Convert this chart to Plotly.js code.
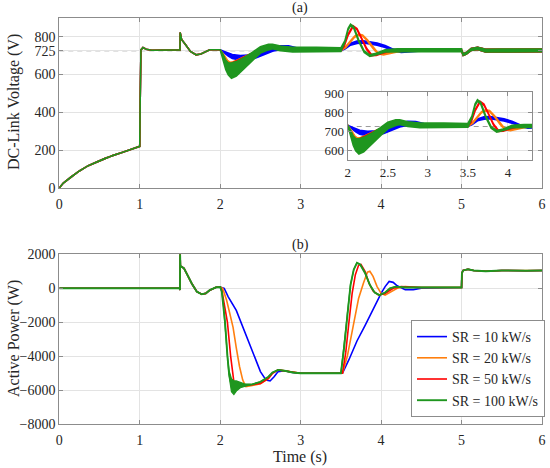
<!DOCTYPE html>
<html>
<head>
<meta charset="utf-8">
<script src="https://cdn.plot.ly/plotly-3.0.1.min.js"></script>
<style>html,body{margin:0;padding:0;background:#fff;}#chart{width:550px;height:468px;}</style>
</head>
<body>
<div id="chart"></div>
<script>
// ---------- series labels & colours ----------
const seriesNames = ['SR = 10 kW/s', 'SR = 20 kW/s', 'SR = 50 kW/s', 'SR = 100 kW/s'];
const seriesColors = ['#0000ff', '#ff7f0e', '#ff0000', '#1f961f'];

// ---------- (a) DC-link voltage: common start (0 - 2 s) ----------
const tHeadV = [0, 0.05, 0.15, 0.25, 0.36, 0.47, 0.57, 0.67, 0.78, 0.88, 0.98, 1.0, 1.005, 1.015, 1.04, 1.08, 1.15, 1.5, 1.502, 1.52, 1.57, 1.63, 1.7, 1.76, 1.87, 2.0];
const vHeadV = [0, 26, 60, 90, 118, 139, 157, 173, 188, 203, 217, 220, 450, 730, 742, 733, 728, 730, 822, 785, 757, 722, 704, 708, 731, 731];
// common end (5 - 6 s)
const tTailV = [5.0, 5.02, 5.06, 5.12, 5.2, 5.3, 5.5, 6.0];
const vTailV = [728, 705, 712, 732, 738, 726, 727, 727];
const wTailV = [3, 4, 4, 5, 6, 7, 7, 7];

// per-series voltage (2 - 5 s): centre value and half band width
const tV10 = [2.0, 2.05, 2.1, 2.15, 2.25, 2.35, 2.45, 2.55, 2.65, 2.75, 2.85, 2.95, 3.1, 3.5, 3.55, 3.62, 3.7, 3.78, 3.86, 3.95, 4.05, 4.15, 4.25, 4.35, 4.5, 5.0];
const vV10 = [731, 718, 705, 695, 688, 690, 700, 717, 733, 742, 742, 735, 730, 730, 738, 760, 770, 772, 768, 760, 748, 730, 720, 721, 727, 727];
const wV10 = [0, 4, 8, 10, 12, 12, 12, 12, 10, 10, 9, 6, 4, 4, 4, 5, 6, 6, 6, 6, 5, 4, 4, 3, 3, 3];

const tV20 = [2.0, 2.05, 2.09, 2.12, 2.16, 2.22, 2.3, 2.4, 2.5, 2.6, 2.65, 2.75, 2.9, 3.5, 3.56, 3.62, 3.67, 3.72, 3.77, 3.83, 3.9, 3.96, 4.03, 4.1, 4.2, 4.3, 5.0];
const vV20 = [731, 700, 672, 662, 664, 675, 692, 710, 728, 745, 748, 740, 730, 730, 745, 775, 800, 810, 806, 780, 740, 712, 706, 712, 722, 728, 728];
const wV20 = [0, 2, 3, 3, 3, 3, 3, 3, 4, 4, 4, 4, 4, 4, 3, 3, 3, 3, 3, 3, 3, 3, 3, 3, 3, 3, 3];

const tV50 = [2.0, 2.04, 2.08, 2.12, 2.18, 2.25, 2.35, 2.45, 2.55, 2.62, 2.7, 2.85, 3.5, 3.54, 3.59, 3.65, 3.7, 3.76, 3.82, 3.88, 3.94, 4.02, 4.12, 4.25, 5.0];
const vV50 = [731, 690, 650, 652, 665, 680, 700, 718, 738, 748, 742, 731, 730, 750, 810, 855, 840, 790, 735, 702, 703, 715, 726, 728, 728];
const wV50 = [0, 2, 3, 3, 3, 3, 3, 3, 4, 4, 4, 4, 4, 3, 3, 3, 3, 3, 3, 3, 3, 3, 3, 3, 3];

const tV100 = [2.0, 2.03, 2.07, 2.1, 2.14, 2.2, 2.3, 2.4, 2.5, 2.6, 2.65, 2.75, 2.9, 3.2, 3.5, 3.55, 3.59, 3.62, 3.66, 3.72, 3.79, 3.86, 3.94, 4.05, 4.2, 4.5, 5.0];
const vV100 = [731, 700, 650, 630, 620, 630, 660, 695, 730, 745, 748, 738, 731, 731, 731, 775, 840, 862, 848, 780, 720, 700, 708, 725, 728, 728, 728];
const wV100 = [0, 10, 25, 32, 40, 38, 30, 22, 17, 15, 12, 12, 12, 12, 10, 4, 4, 4, 4, 4, 4, 4, 4, 6, 8, 8, 8];

const vRef = 725;

// ---------- (b) active power ----------
const tHeadP = [0, 1.495, 1.5, 1.501, 1.505, 1.52, 1.55, 1.58, 1.61, 1.65, 1.71, 1.77, 1.82, 1.87, 1.95, 2.0];
const pHeadP = [0, 0, -100, 2100, 1300, 1270, 1170, 900, 590, 250, -200, -350, -300, -110, 60, 80];
const tTailP = [5.0, 5.005, 5.02, 5.08, 5.15, 5.3, 5.5, 5.8, 6.0];
const pTailP = [50, 900, 1050, 1120, 1050, 1000, 1050, 1030, 1050];

const tP10 = [2.0, 2.05, 2.1, 2.2, 2.3, 2.4, 2.5, 2.57, 2.62, 2.67, 2.72, 2.8, 2.9, 3.0, 3.52, 3.6, 3.7, 3.8, 3.9, 4.0, 4.05, 4.1, 4.15, 4.2, 4.3, 4.4, 4.5, 5.0];
const pP10 = [80, 0, -500, -1300, -2500, -3700, -4900, -5400, -5450, -5200, -4900, -4850, -4950, -5000, -5000, -4200, -3100, -2200, -1200, -300, 100, 400, 350, 150, -80, -80, 0, 50];

const tP20 = [2.0, 2.03, 2.08, 2.12, 2.16, 2.2, 2.24, 2.28, 2.32, 2.4, 2.5, 2.6, 2.65, 2.72, 2.8, 2.9, 3.0, 3.52, 3.58, 3.65, 3.72, 3.78, 3.83, 3.86, 3.9, 3.95, 4.0, 4.05, 4.1, 4.2, 4.3, 4.5, 5.0];
const pP20 = [80, 0, -700, -1500, -2300, -3500, -4600, -5400, -5780, -5720, -5620, -5300, -5000, -4800, -4850, -4950, -5000, -5000, -4000, -2300, -600, 300, 950, 1000, 700, 100, -300, -400, -250, 0, 100, 50, 50];

const tP50 = [2.0, 2.02, 2.05, 2.09, 2.13, 2.17, 2.2, 2.25, 2.35, 2.5, 2.6, 2.65, 2.72, 2.8, 2.9, 3.0, 3.52, 3.56, 3.6, 3.64, 3.68, 3.72, 3.75, 3.8, 3.85, 3.9, 3.97, 4.05, 4.15, 4.25, 4.5, 5.0];
const pP50 = [80, -100, -900, -2000, -4000, -5500, -5800, -5750, -5700, -5600, -5300, -5000, -4800, -4850, -4950, -5000, -5000, -3800, -2000, -300, 800, 1350, 1400, 1000, 300, -150, -400, -300, 0, 100, 50, 50];

const tP100 = [2.0, 2.02, 2.04, 2.06, 2.09, 2.11, 2.14, 2.17, 2.2, 2.25, 2.3, 2.4, 2.5, 2.6, 2.65, 2.72, 2.8, 2.9, 3.0, 3.5, 3.54, 3.58, 3.62, 3.66, 3.7, 3.74, 3.8, 3.86, 3.92, 3.98, 4.05, 4.11, 4.18, 4.3, 5.0];
const pP100 = [80, -200, -1000, -2000, -4000, -5000, -5700, -5850, -5750, -5700, -5700, -5650, -5500, -5200, -4950, -4800, -4850, -4950, -5000, -5000, -3500, -1500, 200, 1100, 1500, 1400, 900, 200, -250, -400, -250, 0, 100, 50, 50];
const wP100 = [0, 0, 0, 0, 0, 150, 380, 400, 300, 150, 80, 0, 0, 0, 0, 0, 0, 0, 0, 0, 0, 0, 0, 0, 0, 0, 0, 0, 0, 0, 0, 0, 0, 0, 0];

// ---------- tick labels ----------
const vTicks = [0, 200, 400, 600, 725, 800];
const pTicks = [-8000, -6000, -4000, -2000, 0, 2000];
const tTicks = [0, 1, 2, 3, 4, 5, 6];
const insetXTicks = [2, 2.5, 3, 3.5, 4];
const insetYTicks = [600, 700, 800, 900];

// ---------- build ----------
const FONT = '"Liberation Serif", "Times New Roman", "DejaVu Serif", serif';
const vSets = [[tV10, vV10, wV10], [tV20, vV20, wV20], [tV50, vV50, wV50], [tV100, vV100, wV100]];
const pSets = [[tP10, pP10], [tP20, pP20], [tP50, pP50], [tP100, pP100]];

function bandPoly(t, v, w) {
  const up = v.map((y, i) => y + w[i]);
  const lo = v.map((y, i) => y - w[i]);
  return { x: t.concat(t.slice().reverse()), y: up.concat(lo.slice().reverse()) };
}

const traces = [];
// top main & inset
[['x', 'y'], ['x3', 'y3']].forEach(([xa, ya]) => {
  vSets.forEach((s, k) => {
    const t = tHeadV.concat(s[0], tTailV);
    const v = vHeadV.concat(s[1], vTailV);
    const w = tHeadV.map(() => 0).concat(s[2], wTailV);
    const poly = bandPoly(t, v, w);
    traces.push({
      x: poly.x, y: poly.y, xaxis: xa, yaxis: ya, type: 'scatter', mode: 'lines',
      fill: 'toself', fillcolor: seriesColors[k],
      line: { color: seriesColors[k], width: 1.6 }, showlegend: false, hoverinfo: 'skip'
    });
  });
});
// bottom
pSets.forEach((s, k) => {
  traces.push({
    x: tHeadP.concat(s[0], tTailP), y: pHeadP.concat(s[1], pTailP),
    xaxis: 'x2', yaxis: 'y2', type: 'scatter', mode: 'lines', name: seriesNames[k],
    line: { color: seriesColors[k], width: k === 3 ? 1.9 : 1.6 }, showlegend: true
  });
});
const gb = bandPoly(tP100, pP100, wP100);
traces.push({
  x: gb.x, y: gb.y, xaxis: 'x2', yaxis: 'y2', type: 'scatter', mode: 'lines',
  fill: 'toself', fillcolor: seriesColors[3], line: { color: seriesColors[3], width: 1.2 },
  showlegend: false, hoverinfo: 'skip'
});

const axCommon = {
  showline: true, linecolor: '#8c8c8c', linewidth: 1, mirror: 'ticks',
  ticks: 'inside', ticklen: 4, tickcolor: '#8c8c8c',
  showgrid: true, gridcolor: '#e3e3e3', gridwidth: 1, zeroline: false,
  tickfont: { family: FONT, size: 14, color: '#262626' }
};
const W = 550, H = 468;
const px = v => v / W, py = v => 1 - v / H;
const smallTick = { family: FONT, size: 13, color: '#262626' };

const layout = {
  width: W, height: H,
  margin: { l: 0, r: 0, t: 0, b: 0, pad: 0 },
  paper_bgcolor: '#ffffff', plot_bgcolor: '#ffffff',
  font: { family: FONT, color: '#262626' },
  showlegend: true,
  xaxis: Object.assign({}, axCommon, { domain: [px(59.3), px(542)], range: [0, 6], tickvals: tTicks, anchor: 'y', ticklabelstandoff: 3 }),
  yaxis: Object.assign({}, axCommon, { domain: [py(188), py(17.7)], range: [0, 900], tickvals: vTicks, anchor: 'x' }),
  xaxis2: Object.assign({}, axCommon, { domain: [px(59.3), px(542)], range: [0, 6], tickvals: tTicks, anchor: 'y2', ticklabelstandoff: 3 }),
  yaxis2: Object.assign({}, axCommon, { domain: [py(424.3), py(254.3)], range: [-8000, 2000], tickvals: pTicks, anchor: 'x2' }),
  xaxis3: Object.assign({}, axCommon, { domain: [px(347.7), px(532)], range: [2, 4.3], tickvals: insetXTicks, anchor: 'y3', tickfont: smallTick }),
  yaxis3: Object.assign({}, axCommon, { domain: [py(160), py(92.3)], range: [549, 905], tickvals: insetYTicks, anchor: 'x3', tickfont: smallTick }),
  legend: {
    x: px(411), y: py(417), xanchor: 'left', yanchor: 'bottom',
    bgcolor: '#ffffff', bordercolor: '#8c8c8c', borderwidth: 1,
    font: { family: FONT, size: 14, color: '#262626' }, tracegroupgap: 0
  },
  shapes: [
    { type: 'line', xref: 'x', yref: 'y', x0: 0, x1: 6, y0: vRef, y1: vRef, layer: 'below',
      line: { color: '#9a9a9a', width: 1, dash: '5px,4px' } },
    { type: 'line', xref: 'x3', yref: 'y3', x0: 2, x1: 4.3, y0: vRef, y1: vRef, layer: 'below',
      line: { color: '#9a9a9a', width: 1, dash: '5px,4px' } }
  ],
  annotations: [
    { text: '(a)', xref: 'paper', yref: 'paper', x: px(300), y: py(8), xanchor: 'center', yanchor: 'middle', showarrow: false,
      font: { family: FONT, size: 14, color: '#1a1a1a' } },
    { text: '(b)', xref: 'paper', yref: 'paper', x: px(300), y: py(245), xanchor: 'center', yanchor: 'middle', showarrow: false,
      font: { family: FONT, size: 14, color: '#1a1a1a' } },
    { text: 'DC-Link Voltage (V)', xref: 'paper', yref: 'paper', x: px(14), y: py(102), xanchor: 'center', yanchor: 'middle', showarrow: false, textangle: -90,
      font: { family: FONT, size: 16, color: '#262626' } },
    { text: 'Active Power (W)', xref: 'paper', yref: 'paper', x: px(14), y: py(339), xanchor: 'center', yanchor: 'middle', showarrow: false, textangle: -90,
      font: { family: FONT, size: 16, color: '#262626' } },
    { text: 'Time (s)', xref: 'paper', yref: 'paper', x: px(300), y: py(457), xanchor: 'center', yanchor: 'middle', showarrow: false,
      font: { family: FONT, size: 16, color: '#262626' } }
  ]
};

Plotly.newPlot('chart', traces, layout, { staticPlot: true, displayModeBar: false });
</script>
</body>
</html>
